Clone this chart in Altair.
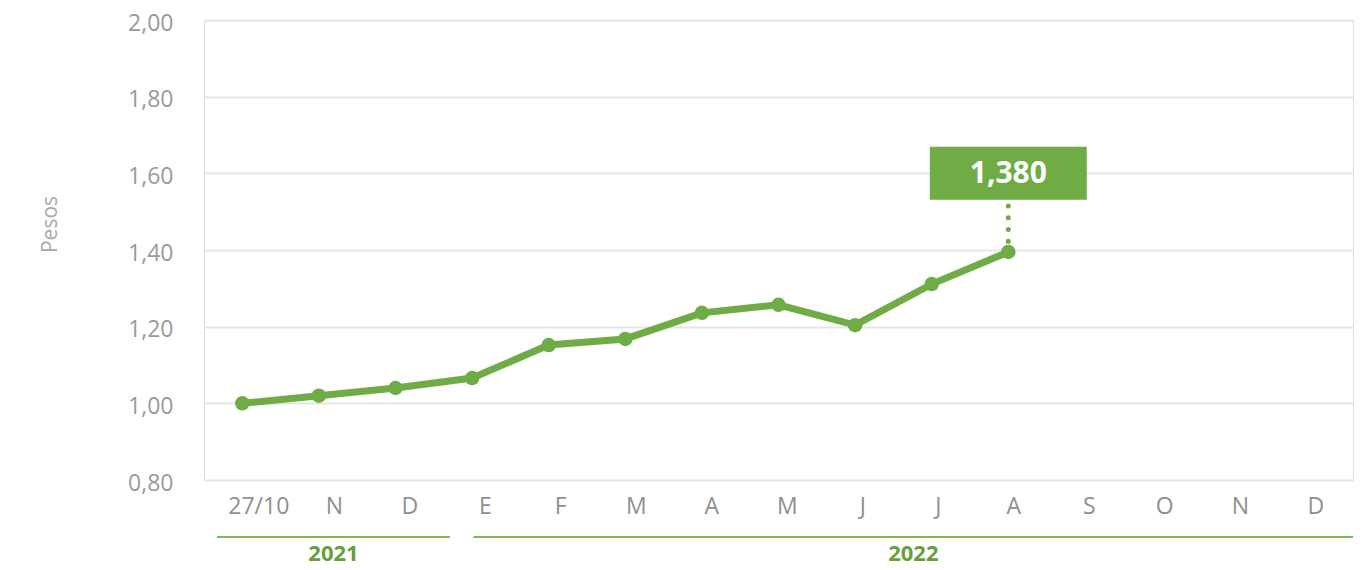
import altair as alt
import pandas as pd

# ---- data ----
x_labels = ["27/10", "N", "D", "E", "F", "M", "A", "M", "J", "J", "A", "S", "O", "N", "D"]
values = [1.00, 1.02, 1.04, 1.066, 1.152, 1.168, 1.236, 1.257, 1.204, 1.311, 1.395]

annot_idx = [10]
annot_text = ["1,380"]
annot_box_y = [1.60]
annot_dot_top = [1.515]
annot_dot_bottom = [1.42]

years = ["2021", "2022"]
year_start = [0.17, 3.52]   # in band units along the x axis
year_end = [3.21, 15.0]

GREEN = "#6fac46"
YEAR_GREEN = "#65a03d"
FONT = "Open Sans"

df = pd.DataFrame({"idx": list(range(len(values))), "value": values})
ann = pd.DataFrame({"idx": annot_idx, "text": annot_text, "y": annot_box_y,
                    "top": annot_dot_top, "bottom": annot_dot_bottom})
yr = pd.DataFrame({"year": years, "start": year_start, "end": year_end})

label_expr = "[" + ",".join("'" + l + "'" for l in x_labels) + "][datum.value]"

x_scale = alt.Scale(type="point", domain=list(range(len(x_labels))), padding=0.5)
x_enc = alt.X(
    "idx:O",
    scale=x_scale,
    axis=alt.Axis(
        title=None, labelExpr=label_expr, labelAngle=0, domain=False, ticks=False,
        labelPadding=15, labelOffset=alt.ExprRef("16 - 1.1 * datum.value"),
        labelFontSize=23, labelColor="#8f8f8f",
        labelFont=FONT, grid=False,
    ),
)
y_enc = alt.Y(
    "value:Q",
    scale=alt.Scale(domain=[0.8, 2.0], nice=False, zero=False),
    axis=alt.Axis(
        values=[0.8, 1.0, 1.2, 1.4, 1.6, 1.8, 2.0],
        labelExpr="replace(format(datum.value, '.2f'), '.', ',')",
        title="Pesos", titleFont=FONT, titleFontSize=21, titleFontWeight="normal",
        titleColor="#a8a8a8", titleAngle=-90, titleX=-154, titleY=204,
        titleAlign="center", titleBaseline="middle",
        labelFontSize=23, labelColor="#9a9a9a", labelFont=FONT, labelPadding=31,
        labelOffset=3,
        domain=False, ticks=False, gridColor="#e6e6e6", gridWidth=2,
    ),
)

base = alt.Chart(df)
line = base.mark_line(color=GREEN, strokeWidth=7).encode(x=x_enc, y=y_enc)
pts = base.mark_circle(color=GREEN, size=210, opacity=1).encode(x=x_enc, y=y_enc)

dots = alt.Chart(ann).mark_rule(
    color=GREEN, strokeWidth=5, strokeDash=[0.1, 11.7], strokeCap="round"
).encode(x=alt.X("idx:O", scale=x_scale), y=alt.Y("top:Q"), y2="bottom:Q")

box = alt.Chart(ann).mark_point(
    shape="M-1,-0.3376L1,-0.3376L1,0.3376L-1,0.3376Z",
    filled=True, color=GREEN, opacity=1, size=157 * 157,
).encode(x=alt.X("idx:O", scale=x_scale), y=alt.Y("y:Q"))

box_text = alt.Chart(ann).mark_text(
    color="white", font=FONT, fontSize=30, fontWeight="bold", baseline="middle", align="center", dy=1
).encode(x=alt.X("idx:O", scale=x_scale), y=alt.Y("y:Q"), text="text:N")

main = alt.layer(line, pts, dots, box, box_text)

yx = alt.X("start:Q", scale=alt.Scale(domain=[0, 15], nice=False, zero=False), axis=None)
year_rules = alt.Chart(yr).mark_rule(color="#7cbb52", strokeWidth=2).encode(
    x=yx, x2="end:Q", y=alt.value(517)
)
year_text = alt.Chart(yr).transform_calculate(mid="(datum.start + datum.end) / 2").mark_text(
    color=YEAR_GREEN, font=FONT, fontSize=22, fontWeight="bold", baseline="middle"
).encode(
    x=alt.X("mid:Q", scale=alt.Scale(domain=[0, 15], nice=False, zero=False), axis=None),
    y=alt.value(534), text="year:N",
)
deco = alt.layer(year_rules, year_text)

chart = alt.layer(main, deco).resolve_scale(x="independent").properties(
    width=1149, height=460,
    autosize=alt.AutoSizeParams(type="none"),
    padding={"left": 196, "top": 12, "right": 4, "bottom": 82},
).configure_view(stroke=None).configure(background="white")

chart.save("out.html", embed_options={"renderer": "svg", "actions": False})
